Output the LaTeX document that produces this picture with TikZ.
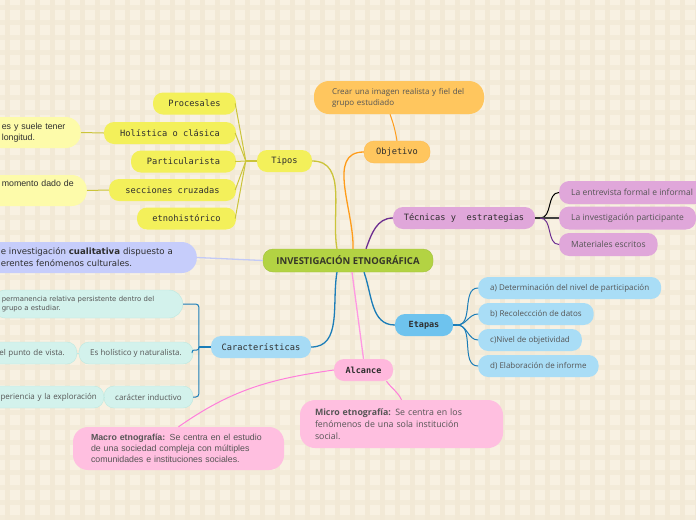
\documentclass[tikz,border=0pt]{standalone}
\usepackage{fontspec}
\setmainfont{Open Sans}
\setmonofont{DejaVu Sans Mono}
\newfontfamily\arialfont{Liberation Sans}
\newfontfamily\verdanafont{DejaVu Sans}
\usetikzlibrary{positioning, calc}
\definecolor{paper}{HTML}{F8F1E2}
\definecolor{paper-line}{HTML}{F2E9D6}
\definecolor{root-fill}{HTML}{B3D343}
\definecolor{root-draw}{HTML}{A2C23A}
\definecolor{tipos-fill}{HTML}{F3F05A}
\definecolor{tipos-soft}{HTML}{FDFBAA}
\definecolor{tipos-line}{HTML}{CBC43A}
\definecolor{obj-fill}{HTML}{FFC65E}
\definecolor{obj-line}{HTML}{FF9C1A}
\definecolor{tec-fill}{HTML}{E0A7DA}
\definecolor{tec-line}{HTML}{6D2F91}
\definecolor{etapa-fill}{HTML}{6EC3EE}
\definecolor{etapa-soft}{HTML}{A9DDF6}
\definecolor{etapa-line}{HTML}{1B7DB8}
\definecolor{carac-fill}{HTML}{A6DBF5}
\definecolor{carac-soft}{HTML}{D3F2EC}
\definecolor{carac-draw}{HTML}{BDE9E1}
\definecolor{alc-fill}{HTML}{FFB8DD}
\definecolor{alc-soft}{HTML}{FFBFE0}
\definecolor{alc-line}{HTML}{FF7EDB}
\definecolor{lav-fill}{HTML}{C6CDFB}
\definecolor{lav-line}{HTML}{C3CAF6}
\definecolor{topic-text}{HTML}{2E2E2E}
\definecolor{leaf-text}{HTML}{555555}
\tikzset{
  pill/.style={rounded corners=10pt, minimum height=22pt, inner ysep=0pt, inner xsep=0pt},
  topic/.style={pill, font=\ttfamily\fontsize{8.7}{10}\selectfont, text=topic-text},
  leaf/.style={pill, font=\fontsize{8}{9}\selectfont, text=leaf-text},
  note/.style={rounded corners=15pt, align=left, inner ysep=0pt, text=leaf-text},
  branch/.style={line width=1.3pt},
  twig/.style={line width=1pt}
}

\begin{document}
\begin{tikzpicture}[x=1pt, y=-1pt]
    % Paper with its faint checks
    \fill[paper] (0,0) rectangle (696,520);
    \clip (0,0) rectangle (696,520);
    \foreach \i in {7,22,...,700} {
        \draw[paper-line, line width=5pt] (\i,0) -- (\i,520);
        \draw[paper-line, line width=5pt, opacity=0.7] (0,\i) -- (696,\i);
    }

    % Central topic
    \node[pill, fill=root-fill, draw=root-draw, minimum width=170pt, minimum height=23pt,
          font=\bfseries\fontsize{9.5}{10}\selectfont, text=topic-text!90!olive] (root) at (348,260.5) {INVESTIGACIÓN ETNOGRÁFICA};

    % Tipos branch
    \node[topic, fill=tipos-fill, minimum width=55pt] (tipos) at (284.5,161) {Tipos};
    \node[topic, fill=tipos-fill, minimum width=83pt] (procesales) at (194.5,103.5) {Procesales};
    \node[topic, fill=tipos-fill, minimum width=132pt] (holistica) at (170,133) {Holística o clásica};
    \node[topic, fill=tipos-fill, minimum width=105pt] (particular) at (183.5,161.5) {Particularista};
    \node[topic, fill=tipos-fill, minimum width=127pt] (secciones) at (172.5,190) {secciones cruzadas};
    \node[topic, fill=tipos-fill, minimum width=99pt] (etnohist) at (186.5,218.5) {etnohistórico};
    \node[note, fill=tipos-soft, anchor=east, inner xsep=16pt, minimum height=31pt, text width=63pt,
          font=\arialfont\fontsize{8.8}{11}\selectfont, text=topic-text] (holnote) at (81,132.5) {\mbox{es y suele tener}\\longitud.};
    \node[note, fill=tipos-soft, anchor=east, inner xsep=18pt, minimum height=31pt, text width=67pt,
          font=\arialfont\fontsize{8.8}{11}\selectfont, text=topic-text] (secnote) at (87,190.5) {\mbox{momento dado de}\\ \strut};

    % Definicion on the left
    \node[note, fill=lav-fill, anchor=east, inner xsep=22pt, minimum height=31pt, text width=174pt,
          font=\verdanafont\fontsize{8.6}{12}\selectfont, text=topic-text] (defin) at (197,257.5) {\mbox{e investigación \textbf{cualitativa} dispuesto a}\\erentes fenómenos culturales.};

    % Objetivo branch
    \node[topic, fill=obj-fill, draw=obj-fill!85!orange, minimum width=66pt] (objetivo) at (397,152) {Objetivo};
    \node[note, fill=obj-fill, minimum width=170pt, minimum height=33pt, text width=134pt,
          font=\fontsize{8}{11}\selectfont] (objnote) at (399,97.5) {Crear una imagen realista y fiel del\\grupo estudiado};

    % Tecnicas branch
    \node[topic, fill=tec-fill, minimum width=142pt] (tecnicas) at (464,218) {Técnicas y \ estrategias};
    \node[leaf, fill=tec-fill, anchor=west, inner xsep=12pt, minimum height=23pt, font=\fontsize{8.5}{9}\selectfont] (entrevista) at (559,192.5) {La entrevista formal e informal};
    \node[leaf, fill=tec-fill, anchor=west, inner xsep=12pt, minimum height=23pt, font=\fontsize{8.5}{9}\selectfont] (participante) at (559,218) {La investigación participante};
    \node[leaf, fill=tec-fill, anchor=west, inner xsep=12pt, minimum height=23pt, font=\fontsize{8.5}{9}\selectfont] (materiales) at (559,244.5) {Materiales escritos};

    % Etapas branch
    \node[topic, fill=etapa-fill, font=\ttfamily\bfseries\fontsize{8.5}{10}\selectfont, minimum width=58pt] (etapas) at (424,325) {Etapas};
    \node[leaf, fill=etapa-soft, anchor=west, inner xsep=12pt] (etapa-a) at (478,288) {a) Determinación del nivel de participación};
    \node[leaf, fill=etapa-soft, anchor=west, inner xsep=12pt] (etapa-b) at (478,314) {b) Recoleccción de datos};
    \node[leaf, fill=etapa-soft, anchor=west, inner xsep=12pt] (etapa-c) at (478,340) {c)Nivel de objetividad};
    \node[leaf, fill=etapa-soft, anchor=west, inner xsep=12pt] (etapa-d) at (478,366) {d) Elaboración de informe};

    % Caracteristicas branch
    \node[topic, fill=carac-fill, minimum width=100pt] (caract) at (261,347) {Características};
    \node[note, fill=carac-soft, draw=carac-draw, anchor=east, inner xsep=10pt, minimum height=28pt, text width=171pt,
          rounded corners=14pt, font=\verdanafont\fontsize{6.9}{9}\selectfont] (permanencia) at (183,304) {permanencia relativa persistente dentro del\\grupo a estudiar.};
    \node[leaf, fill=carac-soft, draw=carac-draw, minimum width=114pt] (holistico) at (136,353) {Es holístico y naturalista.};
    \node[leaf, fill=carac-soft, draw=carac-draw, anchor=east, inner xsep=12pt, text width=80pt, align=right] (vista) at (77,353) {el punto de vista.};
    \node[leaf, fill=carac-soft, draw=carac-draw, minimum width=89pt] (inductivo) at (148.5,397) {carácter inductivo};
    \node[leaf, fill=carac-soft, draw=carac-draw, anchor=east, inner xsep=7pt, text width=110pt, align=right] (explora) at (104,397) {periencia y la exploración};

    % Alcance branch
    \node[topic, fill=alc-fill, font=\ttfamily\bfseries\fontsize{8.5}{10}\selectfont, minimum width=59pt] (alcance) at (363.5,370) {Alcance};
    \node[note, fill=alc-soft, minimum width=203pt, minimum height=48pt, text width=173pt,
          font=\fontsize{8.8}{12}\selectfont] (micro) at (401.5,424) {\textbf{Micro etnografía:} Se centra en los\\fenómenos de una sola institución\\social.};
    \node[note, fill=alc-soft, minimum width=211pt, minimum height=43pt, text width=175pt,
          font=\arialfont\fontsize{8.8}{11}\selectfont] (macro) at (178.5,448.5) {\textbf{Macro etnografía:} Se centra en el estudio\\de una sociedad compleja con múltiples\\comunidades e instituciones sociales.};

    % Branches from the central topic
    \draw[branch, tipos-line] ([xshift=-11pt]root.north) to[out=100, in=0] (tipos.east);
    \draw[branch, obj-line] ([xshift=5pt]root.north) to[out=88, in=180] (objetivo.west);
    \draw[branch, tec-line] ([xshift=18pt]root.north) to[out=70, in=180] (tecnicas.west);
    \draw[branch, etapa-line] ([xshift=16pt]root.south) to[out=-70, in=180] (etapas.west);
    \draw[branch, etapa-line] ([xshift=-11pt]root.south) to[out=-100, in=0] (caract.east);
    \draw[branch, alc-line!80] ([xshift=4pt]root.south) -- (alcance.north);
    \draw[branch, lav-line] (defin.east) -- (root.west);

    % Tipos fan
    \coordinate (tfork) at ([xshift=-11pt]tipos.west);
    \draw[branch, tipos-line] (tipos.west) -- (tfork);
    \foreach \t in {procesales, holistica, particular, secciones, etnohist}
        \draw[twig, tipos-line] (tfork) -- ([xshift=-1pt]\t.east);
    \draw[twig, tipos-line] (holistica.west) -- (holnote.east);
    \draw[twig, tipos-line] (secciones.west) -- (secnote.east);

    % Objetivo, Tecnicas and Etapas leaves
    \draw[twig, obj-line] (objetivo.north) to[out=100, in=-70] ([xshift=-9pt]objnote.south);
    \coordinate (tecfork) at ([xshift=5pt]tecnicas.east);
    \draw[branch, black!80] (tecnicas.east) -- (tecfork);
    \draw[twig, black] (tecfork) to[out=0, in=180] (entrevista.west);
    \draw[branch, black!75] (tecfork) -- (participante.west);
    \draw[twig, tec-line] (tecfork) to[out=0, in=180] (materiales.west);
    \coordinate (efork) at ([xshift=4pt]etapas.east);
    \draw[branch, etapa-line] (etapas.east) -- (efork);
    \foreach \e in {etapa-a, etapa-b, etapa-c, etapa-d}
        \draw[twig, etapa-line] (efork) to[out=0, in=180] (\e.west);

    % Caracteristicas bracket
    \coordinate (cfork) at ([xshift=-12pt]caract.west);
    \draw[branch, etapa-line] (caract.west) -- (cfork);
    \draw[twig, etapa-line, rounded corners=3pt] (permanencia.east) -| (cfork) |- (inductivo.east);
    \draw[twig, etapa-line, rounded corners=2pt] (cfork) -- ++(0,3) -| ([xshift=-1pt]holistico.east);
    \draw[twig, carac-draw] (holistico.west) -- (vista.east);
    \draw[twig, carac-draw] (inductivo.west) -- (explora.east);

    % Alcance leaves
    \draw[twig, alc-line] (alcance.west) to[out=188, in=35] (macro.north);
    \draw[twig, alc-line] ([xshift=23pt]alcance.south) to[out=-55, in=115] (micro.north);
\end{tikzpicture}
\end{document}
